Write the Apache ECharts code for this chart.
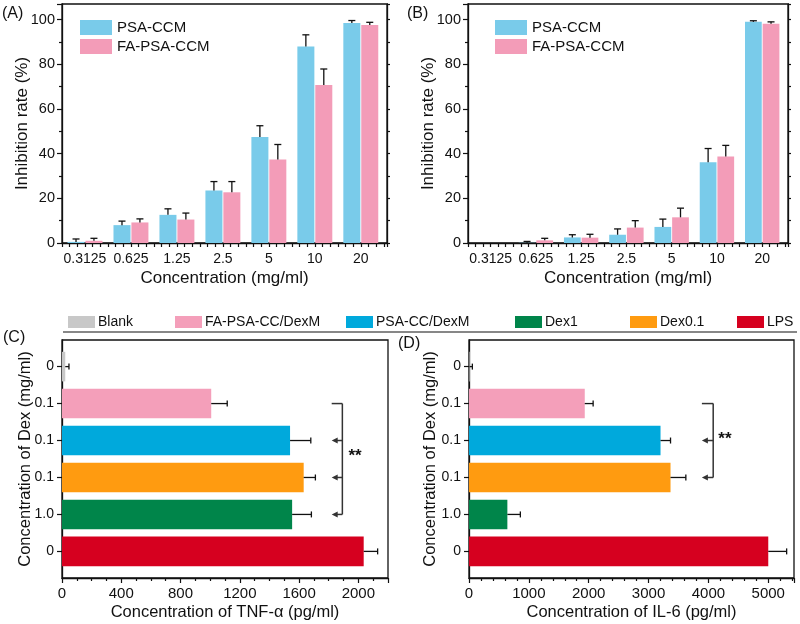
<!DOCTYPE html>
<html>
<head>
<meta charset="utf-8">
<script src="https://cdn.jsdelivr.net/npm/echarts@6/dist/echarts.min.js"></script>
<style>
  html, body { margin: 0; padding: 0; background: #fff; }
  #chart { width: 800px; height: 624px; }
</style>
</head>
<body>
<div id="chart"></div>
<script>
// (A)/(B) inhibition rate
const concLabels = ['0.3125', '0.625', '1.25', '2.5', '5', '10', '20'];
const aPSA = [0.5, 8.0, 12.6, 23.5, 47.5, 88.0, 98.5];
const aPSAErr = [1.3, 1.8, 2.7, 4.0, 5.0, 5.2, 1.1];
const aFA = [1.0, 9.2, 10.5, 22.7, 37.4, 70.7, 97.6];
const aFAErr = [1.1, 1.6, 2.9, 4.8, 6.7, 7.2, 1.2];
const bPSA = [0, 0.1, 2.5, 3.7, 7.2, 36.2, 99.0];
const bPSAErr = [0, 0.6, 1.2, 2.6, 3.5, 6.1, 0.5];
const bFA = [0, 1.2, 2.4, 6.9, 11.5, 38.7, 98.2];
const bFAErr = [0, 0.9, 1.5, 3.1, 4.1, 5.0, 0.8];

// (C)/(D) cytokines, rows top to bottom
const legendGroups = ['Blank', 'FA-PSA-CC/DexM', 'PSA-CC/DexM', 'Dex1', 'Dex0.1', 'LPS'];
const rowGroups = ['Blank', 'FA-PSA-CC/DexM', 'PSA-CC/DexM', 'Dex0.1', 'Dex1', 'LPS'];
const dexLabels = ['0', '0.1', '0.1', '0.1', '1.0', '0'];
const tnf = [22, 1007, 1539, 1631, 1553, 2036];
const tnfErr = [25, 108, 140, 79, 130, 94];
const il6 = [10, 1934, 3200, 3367, 641, 5000];
const il6Err = [46, 140, 167, 256, 217, 307];

// significance brackets: [arrow tip x, bracket x], rows
const cBracketX = [1820, 1892];
const cBracketRows = [1, 4];
const cArrowRows = [2, 3, 4];
const cStar = [1978, 2.43];
const dBracketX = [3891, 4080];
const dBracketRows = [1, 3];
const dArrowRows = [2, 3];
const dStar = [4276, 1.98];

const colors = {
    'PSA-CCM': '#79cbea',
    'FA-PSA-CCM': '#f39cb8',
    'Blank': '#c8c8c8',
    'FA-PSA-CC/DexM': '#f49fba',
    'PSA-CC/DexM': '#00a9dc',
    'Dex1': '#00854a',
    'Dex0.1': '#ff9b10',
    'LPS': '#d6001f'
};

const FONT = "'Liberation Sans', Arial, sans-serif";
const INK = '#111';

function vBar(offset) {
    return function (params, api) {
        const x = api.value(0) + offset, y = api.value(1), e = api.value(2);
        const p0 = api.coord([x, 0]);
        const p1 = api.coord([x, y]);
        const pe = api.coord([x, y + e]);
        const w = Math.abs(api.size([0.37, 0])[0]);
        const children = [{
            type: 'rect',
            shape: {x: p1[0] - w / 2, y: p1[1], width: w, height: p0[1] - p1[1]},
            style: {fill: api.visual('color')}
        }];
        if (e > 0) {
            children.push({type: 'line', shape: {x1: p1[0], y1: p1[1], x2: pe[0], y2: pe[1]}, style: {stroke: INK, lineWidth: 1.3}});
            children.push({type: 'line', shape: {x1: pe[0] - 3.5, y1: pe[1], x2: pe[0] + 3.5, y2: pe[1]}, style: {stroke: INK, lineWidth: 1.3}});
        }
        return {type: 'group', children: children};
    };
}

function hBar(params, api) {
    const v = api.value(0), r = api.value(1), e = api.value(2);
    const p0 = api.coord([0, r]);
    const p1 = api.coord([v, r]);
    const pe = api.coord([v + e, r]);
    const h = Math.abs(api.size([0, 0.8])[1]);
    return {
        type: 'group',
        children: [
            {type: 'rect', shape: {x: p0[0], y: p0[1] - h / 2, width: p1[0] - p0[0], height: h}, style: {fill: api.visual('color')}},
            {type: 'line', shape: {x1: p1[0], y1: p1[1], x2: pe[0], y2: pe[1]}, style: {stroke: INK, lineWidth: 1.3}},
            {type: 'line', shape: {x1: pe[0], y1: pe[1] - 3, x2: pe[0], y2: pe[1] + 3}, style: {stroke: INK, lineWidth: 1.3}}
        ]
    };
}

function bracket(bx, rows, arrows, star) {
    return function (params, api) {
        const top = api.coord([bx[1], rows[0]]);
        const bot = api.coord([bx[1], rows[1]]);
        const tipTop = api.coord([bx[0], rows[0]]);
        const st = {stroke: '#333', lineWidth: 1.5};
        const children = [
            {type: 'line', shape: {x1: tipTop[0], y1: top[1], x2: top[0], y2: top[1]}, style: st},
            {type: 'line', shape: {x1: top[0], y1: top[1], x2: bot[0], y2: bot[1]}, style: st}
        ];
        arrows.forEach(function (r) {
            const a = api.coord([bx[1], r]);
            const t = api.coord([bx[0], r]);
            children.push({type: 'line', shape: {x1: a[0], y1: a[1], x2: t[0] + 3, y2: t[1]}, style: st});
            children.push({type: 'polygon', shape: {points: [[t[0], t[1]], [t[0] + 6, t[1] - 3], [t[0] + 6, t[1] + 3]]}, style: {fill: '#333'}});
        });
        const sp = api.coord(star);
        children.push({type: 'text', x: sp[0], y: sp[1], style: {text: '**', fontSize: 17, fontWeight: 'bold', fontFamily: FONT, fill: INK, align: 'center', verticalAlign: 'middle'}});
        return {type: 'group', children: children};
    };
}

function catAxis(grid) {
    return {
        type: 'value', gridIndex: grid, min: -0.5, max: 6.57, interval: 1 / 6,
        name: 'Concentration (mg/ml)', nameLocation: 'middle', nameGap: 27, nameMoveOverlap: false,
        nameTextStyle: {fontSize: 17, fontFamily: FONT, color: INK},
        axisLine: {onZero: false, lineStyle: {color: INK, width: 1.3}},
        axisTick: {show: true, inside: false, length: 4, lineStyle: {color: INK, width: 1.2}},
        axisLabel: {customValues: [0, 1, 2, 3, 4, 5, 6], margin: 9, fontSize: 14, fontFamily: FONT, color: INK,
            formatter: function (v) { return concLabels[Math.round(v)]; }},
        splitLine: {show: false}
    };
}

function rateAxis(grid, right) {
    return {
        type: 'value', gridIndex: grid, min: 0, max: 107, interval: 20,
        position: right ? 'right' : 'left',
        name: right ? '' : 'Inhibition rate (%)', nameLocation: 'middle', nameGap: 31, nameMoveOverlap: false,
        nameTextStyle: {fontSize: 17, fontFamily: FONT, color: INK},
        axisLine: {show: true, onZero: false, lineStyle: {color: INK, width: 1.3}},
        axisTick: {show: true, inside: false, length: right ? 3 : 5, lineStyle: {color: INK, width: 1.2}},
        minorTick: {show: true, splitNumber: 2, length: 3, lineStyle: {color: INK, width: 1.2}},
        axisLabel: {show: !right, margin: 7, fontSize: 14.5, fontFamily: FONT, color: INK,
            formatter: function (v) { return v % 20 === 0 ? String(v) : ''; }},
        splitLine: {show: false}, minorSplitLine: {show: false}
    };
}

function dexAxis(grid, gap) {
    return {
        type: 'value', gridIndex: grid, min: -0.72, max: 5.72, inverse: true,
        name: 'Concentration of Dex (mg/ml)', nameLocation: 'middle', nameGap: gap, nameMoveOverlap: false,
        nameTextStyle: {fontSize: 16.5, fontFamily: FONT, color: INK},
        axisLine: {show: true, onZero: false, lineStyle: {color: INK, width: 1.3}},
        axisTick: {show: true, length: 5, customValues: [0, 1, 2, 3, 4, 5], lineStyle: {color: INK, width: 1.2}},
        axisLabel: {customValues: [0, 1, 2, 3, 4, 5], margin: 8, fontSize: 14, fontFamily: FONT, color: INK,
            formatter: function (v) { return dexLabels[Math.round(v)]; }},
        splitLine: {show: false}
    };
}

function cytoAxis(grid, max, interval, minor, title) {
    return {
        type: 'value', gridIndex: grid, min: 0, max: max, interval: interval,
        name: title, nameLocation: 'middle', nameGap: 26, nameMoveOverlap: false,
        nameTextStyle: {fontSize: 16.5, fontFamily: FONT, color: INK},
        axisLine: {onZero: false, lineStyle: {color: INK, width: 1.3}},
        axisTick: {show: true, length: 5, lineStyle: {color: INK, width: 1.2}},
        minorTick: {show: true, splitNumber: minor, length: 3, lineStyle: {color: INK, width: 1.2}},
        axisLabel: {margin: 8, fontSize: 15, fontFamily: FONT, color: INK,
            formatter: function (v) { return v % interval === 0 ? String(v) : ''; }},
        splitLine: {show: false}, minorSplitLine: {show: false}
    };
}

const series = [];
function addRate(name, vals, errs, xi, yi, offset) {
    series.push({
        name: name, type: 'custom', xAxisIndex: xi, yAxisIndex: yi,
        itemStyle: {color: colors[name]}, renderItem: vBar(offset),
        data: vals.map(function (v, i) { return [i, v, errs[i]]; })
    });
}
addRate('PSA-CCM', aPSA, aPSAErr, 0, 0, -0.195);
addRate('FA-PSA-CCM', aFA, aFAErr, 0, 0, 0.195);
addRate('PSA-CCM', bPSA, bPSAErr, 1, 2, -0.195);
addRate('FA-PSA-CCM', bFA, bFAErr, 1, 2, 0.195);

rowGroups.forEach(function (g, i) {
    series.push({name: g, type: 'custom', xAxisIndex: 2, yAxisIndex: 4, itemStyle: {color: colors[g]},
        renderItem: hBar, data: [[tnf[i], i, tnfErr[i]]]});
    series.push({name: g, type: 'custom', xAxisIndex: 3, yAxisIndex: 5, itemStyle: {color: colors[g]},
        renderItem: hBar, data: [[il6[i], i, il6Err[i]]]});
});
series.push({type: 'custom', xAxisIndex: 2, yAxisIndex: 4, silent: true, renderItem: bracket(cBracketX, cBracketRows, cArrowRows, cStar), data: [[0, 0]]});
series.push({type: 'custom', xAxisIndex: 3, yAxisIndex: 5, silent: true, renderItem: bracket(dBracketX, dBracketRows, dArrowRows, dStar), data: [[0, 0]]});

const legendLefts = [68, 175, 346, 515, 630, 737];
const legends = [
    {left: 80, top: 20, orient: 'vertical', padding: 0, itemGap: 4, itemWidth: 32, itemHeight: 15,
        textStyle: {fontSize: 15, fontFamily: FONT, color: INK},
        data: [{name: 'PSA-CCM', icon: 'rect'}, {name: 'FA-PSA-CCM', icon: 'rect'}]},
    {left: 495, top: 20, orient: 'vertical', padding: 0, itemGap: 4, itemWidth: 32, itemHeight: 15,
        textStyle: {fontSize: 15, fontFamily: FONT, color: INK},
        data: [{name: 'PSA-CCM', icon: 'rect'}, {name: 'FA-PSA-CCM', icon: 'rect'}]}
];
legendGroups.forEach(function (g, i) {
    legends.push({left: legendLefts[i], top: 315, padding: 0, itemWidth: 27, itemHeight: 12,
        textStyle: {fontSize: 14, fontFamily: FONT, color: INK, padding: [0, 0, 0, -2]},
        data: [{name: g, icon: 'rect'}]});
});

function panelLabel(text, x, y) {
    return {type: 'text', left: x, top: y, style: {text: text, fontSize: 16, fontFamily: FONT, fill: INK}};
}

const chart = echarts.init(document.getElementById('chart'));
chart.setOption({
    animation: false,
    backgroundColor: '#fff',
    grid: [
        {left: 62, right: 413, top: 4, bottom: 381, show: true, borderColor: INK, borderWidth: 1.3},
        {left: 468, right: 12, top: 4, bottom: 381, show: true, borderColor: INK, borderWidth: 1.3},
        {left: 62, right: 412, top: 340, bottom: 46, show: true, borderColor: INK, borderWidth: 1.3},
        {left: 469, right: 6, top: 340, bottom: 46, show: true, borderColor: INK, borderWidth: 1.3}
    ],
    xAxis: [
        catAxis(0),
        catAxis(1),
        cytoAxis(2, 2200, 400, 4, 'Concentration of TNF-α (pg/ml)'),
        cytoAxis(3, 5430, 1000, 5, 'Concentration of IL-6 (pg/ml)')
    ],
    yAxis: [
        rateAxis(0, false), rateAxis(0, true),
        rateAxis(1, false), rateAxis(1, true),
        dexAxis(2, 28), dexAxis(3, 30)
    ],
    legend: legends,
    graphic: [
        panelLabel('(A)', 2, 6),
        panelLabel('(B)', 407, 6),
        panelLabel('(C)', 3, 330),
        panelLabel('(D)', 398, 336),
        {type: 'line', shape: {x1: 63, y1: 332, x2: 797, y2: 332}, style: {stroke: INK, lineWidth: 1.2}}
    ],
    series: series
});
</script>
</body>
</html>
